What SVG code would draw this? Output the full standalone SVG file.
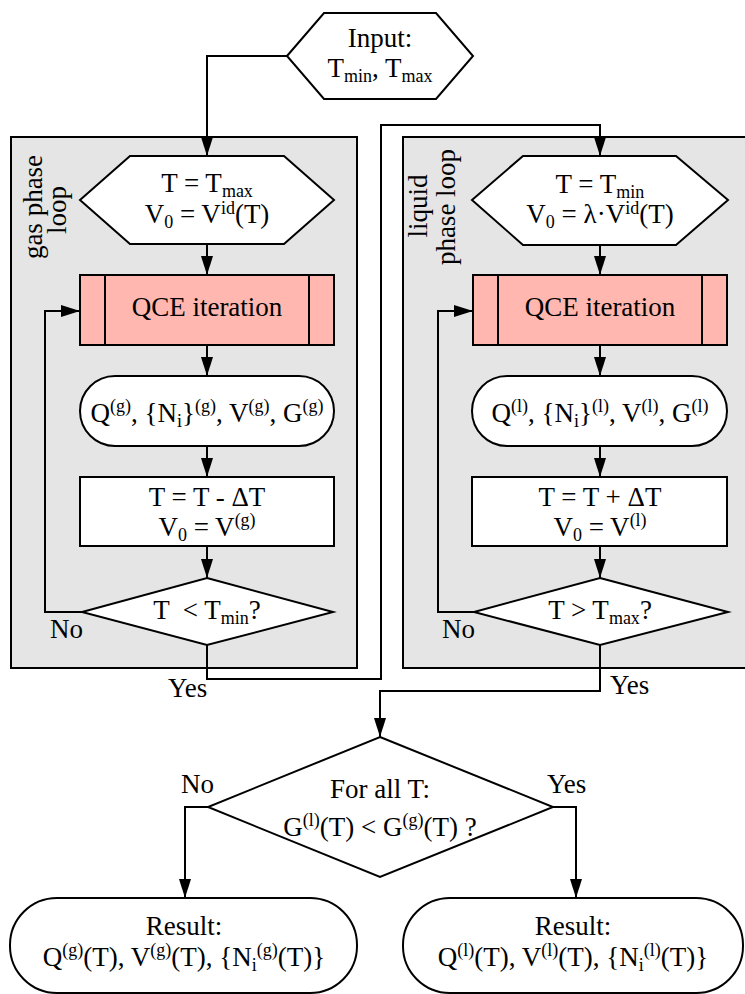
<svg xmlns="http://www.w3.org/2000/svg" width="745" height="994" viewBox="0 0 745 994">
  <style>
    text { font-family: "Liberation Serif", "Times New Roman", serif; font-size: 27px; fill: #000; }
    .c { text-anchor: middle; }
    .sup { font-size: 18px; }
    .sub { font-size: 18px; }
    .panel { fill: #e5e5e5; stroke: #000; stroke-width: 2; }
    .node { fill: #fff; stroke: #000; stroke-width: 2; }
    .proc { fill: #ffb7af; stroke: #000; stroke-width: 2; }
    .wire { fill: none; stroke: #000; stroke-width: 2; }
    .arr { marker-end: url(#ah); }
  </style>
  <defs>
    <marker id="ah" viewBox="0 0 19 12" refX="19" refY="6" markerWidth="19" markerHeight="12" markerUnits="userSpaceOnUse" orient="auto">
      <path d="M0,0 L19,6 L0,12 z" fill="#000"/>
    </marker>
  </defs>

  <rect width="745" height="994" fill="#fff"/>

  <!-- loop panels -->
  <g id="gas-panel">
    <rect class="panel" x="11" y="137" width="346" height="531"/>
    <text class="c" transform="translate(42,207) rotate(-90)">gas phase</text>
    <text class="c" transform="translate(66,210) rotate(-90)">loop</text>
  </g>
  <g id="liquid-panel">
    <rect class="panel" x="403" y="137" width="350" height="531"/>
    <text class="c" transform="translate(427,206) rotate(-90)">liquid</text>
    <text class="c" transform="translate(455,207) rotate(-90)">phase loop</text>
  </g>

  <!-- connectors -->
  <g id="connectors">
    <path class="wire arr" d="M287,56 H207 V156"/>
    <path class="wire arr" d="M207,244 V275"/>
    <path class="wire arr" d="M207,345 V376"/>
    <path class="wire arr" d="M207,446 V477"/>
    <path class="wire arr" d="M207,546 V578"/>
    <path class="wire arr" d="M82,612 H45 V311 H80"/>
    <path class="wire arr" d="M207,645 V679 H381 V125 H600 V156"/>

    <path class="wire arr" d="M600,245 V275"/>
    <path class="wire arr" d="M600,345 V376"/>
    <path class="wire arr" d="M600,446 V477"/>
    <path class="wire arr" d="M600,546 V578"/>
    <path class="wire arr" d="M474,612 H438 V311 H473"/>
    <path class="wire arr" d="M600,645 V691 H380 V737"/>

    <path class="wire arr" d="M208,807 H185 V898"/>
    <path class="wire arr" d="M553,807 H576 V898"/>
  </g>

  <!-- input -->
  <g id="input">
    <polygon class="node" points="287,56 324,13 436,13 473,56 436,99 324,99"/>
    <text class="c" x="380" y="47">Input:</text>
    <text class="c" x="380" y="77">T<tspan class="sub" dy="5">min</tspan><tspan dy="-5">, T</tspan><tspan class="sub" dy="5">max</tspan></text>
  </g>

  <!-- gas phase loop -->
  <g id="gas-init">
    <polygon class="node" points="80,200 130,156 284,156 334,200 284,244 130,244"/>
    <text class="c" x="207" y="192">T = T<tspan class="sub" dy="5">max</tspan></text>
    <text class="c" x="207" y="223">V<tspan class="sub" dy="5">0</tspan><tspan dy="-5"> = V</tspan><tspan class="sup" dy="-9">id</tspan><tspan dy="9">(T)</tspan></text>
  </g>
  <g id="gas-qce">
    <rect class="proc" x="80" y="275" width="254" height="70"/>
    <line class="wire" x1="105" y1="275" x2="105" y2="345"/>
    <line class="wire" x1="309" y1="275" x2="309" y2="345"/>
    <text class="c" x="207" y="316">QCE iteration</text>
  </g>
  <g id="gas-result">
    <rect class="node" x="80" y="376" width="254" height="70" rx="35"/>
    <text class="c" x="207" y="422">Q<tspan class="sup" dy="-10">(g)</tspan><tspan dy="10">, {N</tspan><tspan class="sub" dy="5">i</tspan><tspan dy="-5">}</tspan><tspan class="sup" dy="-10">(g)</tspan><tspan dy="10">, V</tspan><tspan class="sup" dy="-10">(g)</tspan><tspan dy="10">, G</tspan><tspan class="sup" dy="-10">(g)</tspan></text>
  </g>
  <g id="gas-step">
    <rect class="node" x="80" y="477" width="254" height="69"/>
    <text class="c" x="207" y="506">T = T - ΔT</text>
    <text class="c" x="207" y="536">V<tspan class="sub" dy="5">0</tspan><tspan dy="-5"> = V</tspan><tspan class="sup" dy="-10">(g)</tspan></text>
  </g>
  <g id="gas-check">
    <polygon class="node" points="207,578 333,612 207,645 82,612"/>
    <text class="c" x="207" y="619" xml:space="preserve">T  &lt; T<tspan class="sub" dy="5">min</tspan><tspan dy="-5">?</tspan></text>
    <text x="50" y="638">No</text>
    <text x="168" y="697">Yes</text>
  </g>

  <!-- liquid phase loop -->
  <g id="liquid-init">
    <polygon class="node" points="472,200 523,156 676,156 728,200 676,245 523,245"/>
    <text class="c" x="600" y="193">T = T<tspan class="sub" dy="5">min</tspan></text>
    <text class="c" x="600" y="223">V<tspan class="sub" dy="5">0</tspan><tspan dy="-5"> = λ·V</tspan><tspan class="sup" dy="-9">id</tspan><tspan dy="9">(T)</tspan></text>
  </g>
  <g id="liquid-qce">
    <rect class="proc" x="473" y="275" width="254" height="70"/>
    <line class="wire" x1="498" y1="275" x2="498" y2="345"/>
    <line class="wire" x1="702" y1="275" x2="702" y2="345"/>
    <text class="c" x="600" y="316">QCE iteration</text>
  </g>
  <g id="liquid-result">
    <rect class="node" x="472" y="376" width="255" height="70" rx="35"/>
    <text class="c" x="600" y="422">Q<tspan class="sup" dy="-10">(l)</tspan><tspan dy="10">, {N</tspan><tspan class="sub" dy="5">i</tspan><tspan dy="-5">}</tspan><tspan class="sup" dy="-10">(l)</tspan><tspan dy="10">, V</tspan><tspan class="sup" dy="-10">(l)</tspan><tspan dy="10">, G</tspan><tspan class="sup" dy="-10">(l)</tspan></text>
  </g>
  <g id="liquid-step">
    <rect class="node" x="472" y="477" width="255" height="69"/>
    <text class="c" x="600" y="506">T = T + ΔT</text>
    <text class="c" x="600" y="536">V<tspan class="sub" dy="5">0</tspan><tspan dy="-5"> = V</tspan><tspan class="sup" dy="-10">(l)</tspan></text>
  </g>
  <g id="liquid-check">
    <polygon class="node" points="600,578 728,612 600,645 474,612"/>
    <text class="c" x="600" y="619">T &gt; T<tspan class="sub" dy="5">max</tspan><tspan dy="-5">?</tspan></text>
    <text x="442" y="638">No</text>
    <text x="610" y="694">Yes</text>
  </g>

  <!-- comparison -->
  <g id="compare">
    <polygon class="node" points="380,737 553,807 380,877 208,807"/>
    <text class="c" x="380" y="798">For all T:</text>
    <text class="c" x="380" y="836">G<tspan class="sup" dy="-10">(l)</tspan><tspan dy="10">(T) &lt; G</tspan><tspan class="sup" dy="-10">(g)</tspan><tspan dy="10">(T) ?</tspan></text>
    <text x="181" y="793">No</text>
    <text x="547" y="793">Yes</text>
  </g>

  <!-- final results -->
  <g id="gas-final">
    <rect class="node" x="10" y="898" width="347" height="95" rx="47"/>
    <text class="c" x="184" y="935">Result:</text>
    <text class="c" x="184" y="966">Q<tspan class="sup" dy="-10">(g)</tspan><tspan dy="10">(T), V</tspan><tspan class="sup" dy="-10">(g)</tspan><tspan dy="10">(T), {N</tspan><tspan class="sub" dy="5">i</tspan><tspan class="sup" dy="-15">(g)</tspan><tspan dy="10">(T)}</tspan></text>
  </g>
  <g id="liquid-final">
    <rect class="node" x="403" y="898" width="340" height="95" rx="47"/>
    <text class="c" x="573" y="935">Result:</text>
    <text class="c" x="573" y="966">Q<tspan class="sup" dy="-10">(l)</tspan><tspan dy="10">(T), V</tspan><tspan class="sup" dy="-10">(l)</tspan><tspan dy="10">(T), {N</tspan><tspan class="sub" dy="5">i</tspan><tspan class="sup" dy="-15">(l)</tspan><tspan dy="10">(T)}</tspan></text>
  </g>
</svg>
